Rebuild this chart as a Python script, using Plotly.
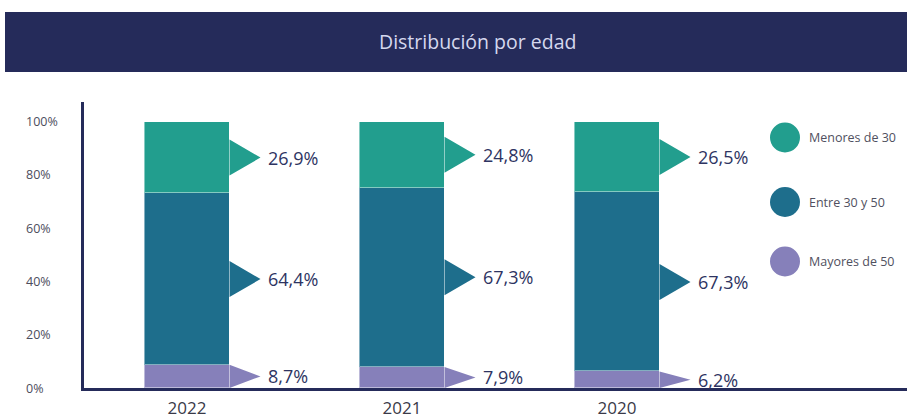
import plotly.graph_objects as go

# Age distribution of staff, share of headcount per year (%)
years = ["2022", "2021", "2020"]
series_names = ["Mayores de 50", "Entre 30 y 50", "Menores de 30"]
mayores_50 = [8.7, 7.9, 6.2]
entre_30_50 = [64.4, 67.3, 67.3]
menores_30 = [26.9, 24.8, 26.5]
y_ticks = [0, 20, 40, 60, 80, 100]

colors = {
    "Menores de 30": "#229e8e",
    "Entre 30 y 50": "#1e6e8c",
    "Mayores de 50": "#8680ba",
}
navy = "#252b5a"

W, H = 907, 419


def px_x(p):
    return p / W


def px_y(p):
    return 1 - p / H


# axis geometry (pixels)
plot_left, plot_right = 83.5, 907
base_px, top_px = 388.0, 102.0
unit_px = 2.663            # pixels per percentage point
cat_px = 215.0             # pixels between bar centres
first_center = 187.0
bar_w = 85 / cat_px
tip_len = 31 / cat_px
label_gap = 36 / cat_px
arrow_h = 36 / unit_px

x_pos = list(range(len(years)))
x_range = [(plot_left - first_center) / cat_px, (plot_right - first_center) / cat_px]
y_range = [0, (base_px - top_px) / unit_px]

values = {
    "Mayores de 50": mayores_50,
    "Entre 30 y 50": entre_30_50,
    "Menores de 30": menores_30,
}

fig = go.Figure()

# stacked columns
for name in series_names:
    fig.add_trace(go.Bar(
        x=x_pos, y=values[name], width=bar_w, name=name,
        marker=dict(color=colors[name], line=dict(color="rgba(255,255,255,0.45)", width=1)),
        showlegend=False, hoverinfo="skip",
    ))

# pointer arrows and value labels on the right of each segment
annotations = []
bottoms = [0.0] * len(years)
for name in series_names:
    xs, ys = [], []
    for i, v in enumerate(values[name]):
        mid = bottoms[i] + v / 2
        h = min(arrow_h, v)
        right = x_pos[i] + bar_w / 2
        xs += [right, right, right + tip_len, right, None]
        ys += [mid - h / 2, mid + h / 2, mid, mid - h / 2, None]
        annotations.append(dict(
            x=right + label_gap, y=mid, xref="x", yref="y",
            text=f"{v:.1f}%".replace(".", ","), showarrow=False,
            xanchor="left", yanchor="middle",
            font=dict(family="Open Sans", size=18, color="#2e3462"),
        ))
        bottoms[i] += v
    fig.add_trace(go.Scatter(
        x=xs, y=ys, mode="lines", fill="toself", fillcolor=colors[name],
        line=dict(width=0, color=colors[name]), showlegend=False, hoverinfo="skip",
    ))

# y tick labels, left aligned
for t in y_ticks:
    annotations.append(dict(
        x=px_x(24), y=t, xref="paper", yref="y", text=f"{t}%", showarrow=False,
        xanchor="left", yanchor="middle",
        font=dict(family="Open Sans", size=12.5, color="#4d4d5c"),
    ))

# header title
annotations.append(dict(
    x=px_x(478), y=px_y(42), xref="paper", yref="paper", text="Distribución por edad",
    showarrow=False, xanchor="center", yanchor="middle",
    font=dict(family="Open Sans", size=19.5, color="#d5d8ee"),
))

shapes = [dict(
    type="rect", xref="paper", yref="paper",
    x0=px_x(5), x1=1, y0=px_y(72), y1=px_y(12),
    fillcolor=navy, line=dict(width=0), layer="below",
)]

# legend: large dots with labels
legend_rows = [("Menores de 30", 137.5), ("Entre 30 y 50", 202), ("Mayores de 50", 261.5)]
for name, cy in legend_rows:
    r = 15
    shapes.append(dict(
        type="circle", xref="paper", yref="paper",
        x0=px_x(785 - r), x1=px_x(785 + r), y0=px_y(cy + r), y1=px_y(cy - r),
        fillcolor=colors[name], line=dict(width=0),
    ))
    annotations.append(dict(
        x=px_x(807), y=px_y(cy), xref="paper", yref="paper", text=name,
        showarrow=False, xanchor="left", yanchor="middle",
        font=dict(family="Open Sans", size=12.5, color="#505060"),
    ))

fig.update_layout(
    width=W, height=H, autosize=False,
    margin=dict(l=0, r=0, t=0, b=0, autoexpand=False),
    paper_bgcolor="white", plot_bgcolor="white",
    barmode="stack", bargap=0,
    annotations=annotations, shapes=shapes,
    xaxis=dict(
        domain=[px_x(plot_left), 1], range=x_range, automargin=False,
        tickvals=x_pos, ticktext=years,
        tickfont=dict(family="Open Sans", size=17, color="#3a3a48"),
        ticks="outside", ticklen=3, tickcolor="rgba(0,0,0,0)",
        showgrid=False, zeroline=False,
        showline=True, linecolor=navy, linewidth=3, fixedrange=True,
    ),
    yaxis=dict(
        domain=[px_y(base_px), px_y(top_px)], range=y_range, automargin=False,
        showticklabels=False, ticks="",
        showgrid=False, zeroline=False,
        showline=True, linecolor=navy, linewidth=3, fixedrange=True,
    ),
)

fig.write_html("out.html")
